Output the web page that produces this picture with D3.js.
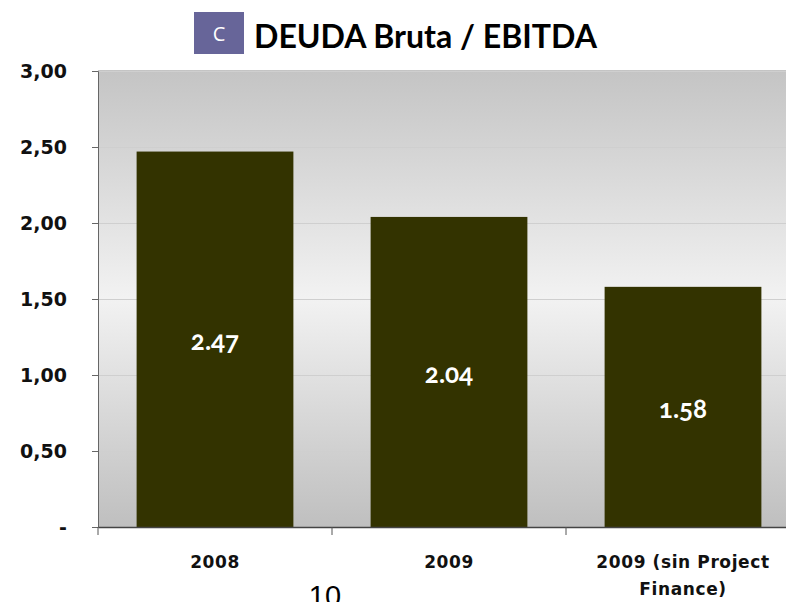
<!DOCTYPE html>
<html><head><meta charset="utf-8">
<script src="https://cdn.jsdelivr.net/npm/d3@7"></script>
<style>body{margin:0;background:#fff;} svg{display:block;}</style>
</head><body>
<svg id="c" width="786" height="602"></svg>
<script>
const categories = ["2008", "2009", "2009 (sin Project Finance)"];
const categoryLines = [["2008"], ["2009"], ["2009 (sin Project", "Finance)"]];
const values = [2.47, 2.04, 1.58];
const valueLabels = ["2.47", "2.04", "1.58"];
const yTicks = [0, 0.5, 1, 1.5, 2, 2.5, 3];
const yTickLabels = ["-", "0,50", "1,00", "1,50", "2,00", "2,50", "3,00"];
const title = "DEUDA Bruta / EBITDA";
const badge = "C";
const pageNumber = "10";

const svg = d3.select("#c");
const L = 98, R = 800, T = 71, B = 527;
const x = d3.scaleBand().domain(categories).range([L, R]).paddingInner(0.33).paddingOuter(0.165);
const y = d3.scaleLinear().domain([0, 3]).range([B, T]);

const defs = svg.append("defs");
const g = defs.append("linearGradient").attr("id","bg").attr("x1",0).attr("y1",0).attr("x2",0).attr("y2",1);
g.append("stop").attr("offset","0%").attr("stop-color","#c4c4c4");
g.append("stop").attr("offset","50%").attr("stop-color","#f2f2f2");
g.append("stop").attr("offset","100%").attr("stop-color","#bfbfbf");

svg.append("rect").attr("x",L).attr("y",T-1).attr("width",R-L).attr("height",B-T+1).attr("fill","url(#bg)");

// gridlines
svg.append("g").selectAll("line").data(yTicks.slice(1)).join("line")
  .attr("x1",L).attr("x2",R).attr("y1",d=>Math.round(y(d))+0.5).attr("y2",d=>Math.round(y(d))+0.5)
  .attr("stroke","#cfcfcf").attr("stroke-width",1);

// bars
svg.append("g").selectAll("rect").data(values).join("rect")
  .attr("x",(d,i)=>x(categories[i])).attr("width",x.bandwidth())
  .attr("y",d=>y(d)).attr("height",d=>B-y(d)).attr("fill","#333300");

// value labels
svg.append("g").selectAll("text").data(values).join("text")
  .attr("x",(d,i)=>x(categories[i])+x.bandwidth()/2)
  .attr("y",d=>(y(d)+B)/2+11)
  .attr("text-anchor","middle").attr("fill","#fff")
  .style("font-variant-numeric","oldstyle-nums")
  .attr("font-family","Lato, 'Open Sans', sans-serif").attr("font-weight","bold").attr("font-size",26)
  .text((d,i)=>valueLabels[i]);

// y axis
const ya = d3.axisLeft(y).tickValues(yTicks).tickSize(6).tickPadding(25).tickFormat((d,i)=>yTickLabels[i]);
const yg = svg.append("g").attr("transform",`translate(${L},0)`).call(ya);
yg.select(".domain").attr("stroke","#666");
yg.selectAll(".tick line").attr("stroke","#666");
yg.selectAll("text").attr("font-family","'DejaVu Sans', Verdana, sans-serif").attr("font-weight","bold")
  .attr("font-size",19).attr("fill","#111");

// x axis
const xa = d3.axisBottom(x).tickSize(0).tickFormat("");
const xg = svg.append("g").attr("transform",`translate(0,${B})`).call(xa);
xg.select(".domain").attr("stroke","#444").attr("stroke-width",1.5);
const edges = [L, ...categories.map(c=>x(c)+x.bandwidth()+x.step()*x.paddingInner()/2)];
svg.append("g").selectAll("line").data(edges).join("line")
  .attr("x1",d=>d).attr("x2",d=>d).attr("y1",B).attr("y2",B+8).attr("stroke","#555");

const cl = svg.append("g").selectAll("text").data(categories).join("text")
  .attr("x",d=>x(d)+x.bandwidth()/2).attr("y",568)
  .attr("text-anchor","middle").attr("font-family","'DejaVu Sans', Verdana, sans-serif")
  .attr("font-weight","bold").attr("font-size",17).attr("letter-spacing","0.6px").attr("fill","#111");
cl.each(function(d,i){
  d3.select(this).selectAll("tspan").data(categoryLines[i]).join("tspan")
    .attr("x",x(d)+x.bandwidth()/2).attr("dy",(t,j)=>j?27:0).text(t=>t);
});

// title
svg.append("rect").attr("x",194).attr("y",12).attr("width",50).attr("height",42).attr("fill","#676599");
svg.append("text").attr("x",219).attr("y",41).attr("text-anchor","middle").attr("fill","#fff")
  .attr("font-family","'Open Sans', sans-serif").attr("font-size",20).text(badge);
svg.append("text").attr("x",254).attr("y",48).attr("font-family","Lato, 'Open Sans', sans-serif")
  .attr("font-weight","bold").attr("font-size",32).attr("fill","#000")
  .attr("textLength",343).attr("lengthAdjust","spacingAndGlyphs").text(title);

svg.append("text").attr("x",325).attr("y",606).attr("text-anchor","middle")
  .attr("font-family","'Liberation Sans', Arial, sans-serif").attr("font-size",29).attr("fill","#000").text(pageNumber);
</script>
</body></html>
